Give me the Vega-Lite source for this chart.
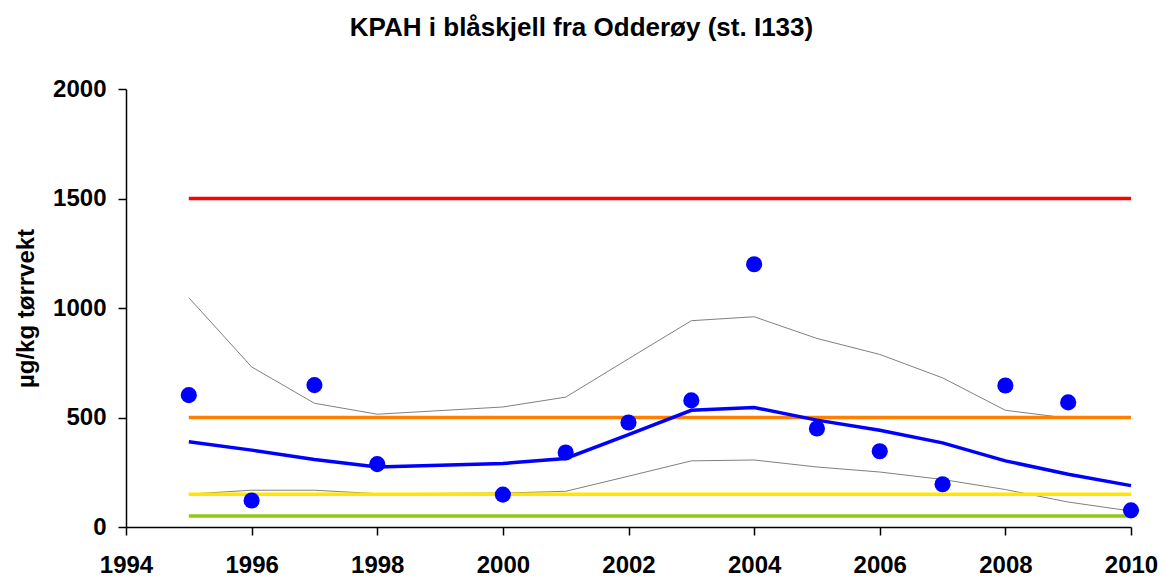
{
  "$schema": "https://vega.github.io/schema/vega-lite/v6.json",
  "width": 1005,
  "height": 438,
  "autosize": {"type": "none"},
  "padding": {"left": 126, "top": 89, "right": 33, "bottom": 51},
  "background": "white",
  "title": {
    "text": "KPAH i blåskjell fra Odderøy (st. I133)",
    "font": "Liberation Sans",
    "fontSize": 26,
    "fontWeight": "bold",
    "color": "black",
    "anchor": "middle",
    "dx": -47,
    "offset": 36
  },
  "config": {
    "view": {"stroke": null},
    "axis": {
      "grid": false,
      "domainColor": "black",
      "domainWidth": 1.5,
      "tickColor": "black",
      "tickWidth": 1.5,
      "tickSize": 8,
      "labelFont": "Liberation Sans",
      "labelFontWeight": "bold",
      "labelFontSize": 24,
      "labelColor": "black",
      "titleFont": "Liberation Sans",
      "titleFontWeight": "bold",
      "titleFontSize": 24,
      "titleColor": "black"
    }
  },
  "datasets": {
    "obs": [
      {"year": 1995, "value": 602},
      {"year": 1996, "value": 121},
      {"year": 1997, "value": 648},
      {"year": 1998, "value": 287},
      {"year": 2000, "value": 148},
      {"year": 2001, "value": 340},
      {"year": 2002, "value": 477},
      {"year": 2003, "value": 578},
      {"year": 2004, "value": 1200},
      {"year": 2005, "value": 450},
      {"year": 2006, "value": 346},
      {"year": 2007, "value": 195},
      {"year": 2008, "value": 646},
      {"year": 2009, "value": 569},
      {"year": 2010, "value": 76}
    ],
    "lines": [
      {"series": "upper", "year": 1995, "value": 1047},
      {"series": "upper", "year": 1996, "value": 731},
      {"series": "upper", "year": 1997, "value": 565},
      {"series": "upper", "year": 1998, "value": 515},
      {"series": "upper", "year": 2000, "value": 548},
      {"series": "upper", "year": 2001, "value": 593},
      {"series": "upper", "year": 2002, "value": 768},
      {"series": "upper", "year": 2003, "value": 942},
      {"series": "upper", "year": 2004, "value": 960},
      {"series": "upper", "year": 2005, "value": 861},
      {"series": "upper", "year": 2006, "value": 788},
      {"series": "upper", "year": 2007, "value": 681},
      {"series": "upper", "year": 2008, "value": 533},
      {"series": "upper", "year": 2009, "value": 497},
      {"series": "upper", "year": 2010, "value": 500},
      {"series": "lower", "year": 1995, "value": 150},
      {"series": "lower", "year": 1996, "value": 168},
      {"series": "lower", "year": 1997, "value": 168},
      {"series": "lower", "year": 1998, "value": 152},
      {"series": "lower", "year": 2000, "value": 155},
      {"series": "lower", "year": 2001, "value": 163},
      {"series": "lower", "year": 2002, "value": 232},
      {"series": "lower", "year": 2003, "value": 302},
      {"series": "lower", "year": 2004, "value": 306},
      {"series": "lower", "year": 2005, "value": 274},
      {"series": "lower", "year": 2006, "value": 251},
      {"series": "lower", "year": 2007, "value": 217},
      {"series": "lower", "year": 2008, "value": 171},
      {"series": "lower", "year": 2009, "value": 114},
      {"series": "lower", "year": 2010, "value": 73},
      {"series": "green", "year": 1995, "value": 50},
      {"series": "green", "year": 2010, "value": 50},
      {"series": "yellow", "year": 1995, "value": 150},
      {"series": "yellow", "year": 2010, "value": 150},
      {"series": "orange", "year": 1995, "value": 500},
      {"series": "orange", "year": 2010, "value": 500},
      {"series": "red", "year": 1995, "value": 1500},
      {"series": "red", "year": 2010, "value": 1500},
      {"series": "trend", "year": 1995, "value": 389},
      {"series": "trend", "year": 1996, "value": 351},
      {"series": "trend", "year": 1997, "value": 308},
      {"series": "trend", "year": 1998, "value": 274},
      {"series": "trend", "year": 2000, "value": 290},
      {"series": "trend", "year": 2001, "value": 313},
      {"series": "trend", "year": 2002, "value": 422},
      {"series": "trend", "year": 2003, "value": 533},
      {"series": "trend", "year": 2004, "value": 546},
      {"series": "trend", "year": 2005, "value": 488},
      {"series": "trend", "year": 2006, "value": 442},
      {"series": "trend", "year": 2007, "value": 384},
      {"series": "trend", "year": 2008, "value": 302},
      {"series": "trend", "year": 2009, "value": 241},
      {"series": "trend", "year": 2010, "value": 189}
    ]
  },
  "encoding": {
    "x": {
      "field": "year",
      "type": "quantitative",
      "scale": {"domain": [1994, 2010], "nice": false, "zero": false},
      "axis": {"values": [1994, 1996, 1998, 2000, 2002, 2004, 2006, 2008, 2010], "format": "d", "title": null, "labelPadding": 18, "labelFlush": false}
    },
    "y": {
      "field": "value",
      "type": "quantitative",
      "scale": {"domain": [0, 2000], "nice": false},
      "axis": {"values": [0, 500, 1000, 1500, 2000], "format": "d", "title": "µg/kg tørrvekt", "labelPadding": 12, "titlePadding": 14}
    }
  },
  "layer": [
    {
      "data": {"name": "lines"},
      "transform": [{"filter": "datum.series === 'upper' || datum.series === 'lower'"}],
      "mark": {"type": "line", "color": "#808080", "strokeWidth": 1},
      "encoding": {"detail": {"field": "series"}}
    },
    {
      "data": {"name": "lines"},
      "transform": [{"filter": "datum.series !== 'upper' && datum.series !== 'lower'"}],
      "mark": {"type": "line", "strokeWidth": 3.5},
      "encoding": {
        "color": {
          "field": "series",
          "type": "nominal",
          "scale": {"domain": ["green", "yellow", "orange", "red", "trend"], "range": ["#92c81a", "#ffe500", "#ff7f00", "#ff0000", "#0000ff"]},
          "legend": null
        }
      }
    },
    {
      "data": {"name": "obs"},
      "mark": {"type": "circle", "color": "#0000ff", "opacity": 1, "size": 260}
    }
  ]
}
